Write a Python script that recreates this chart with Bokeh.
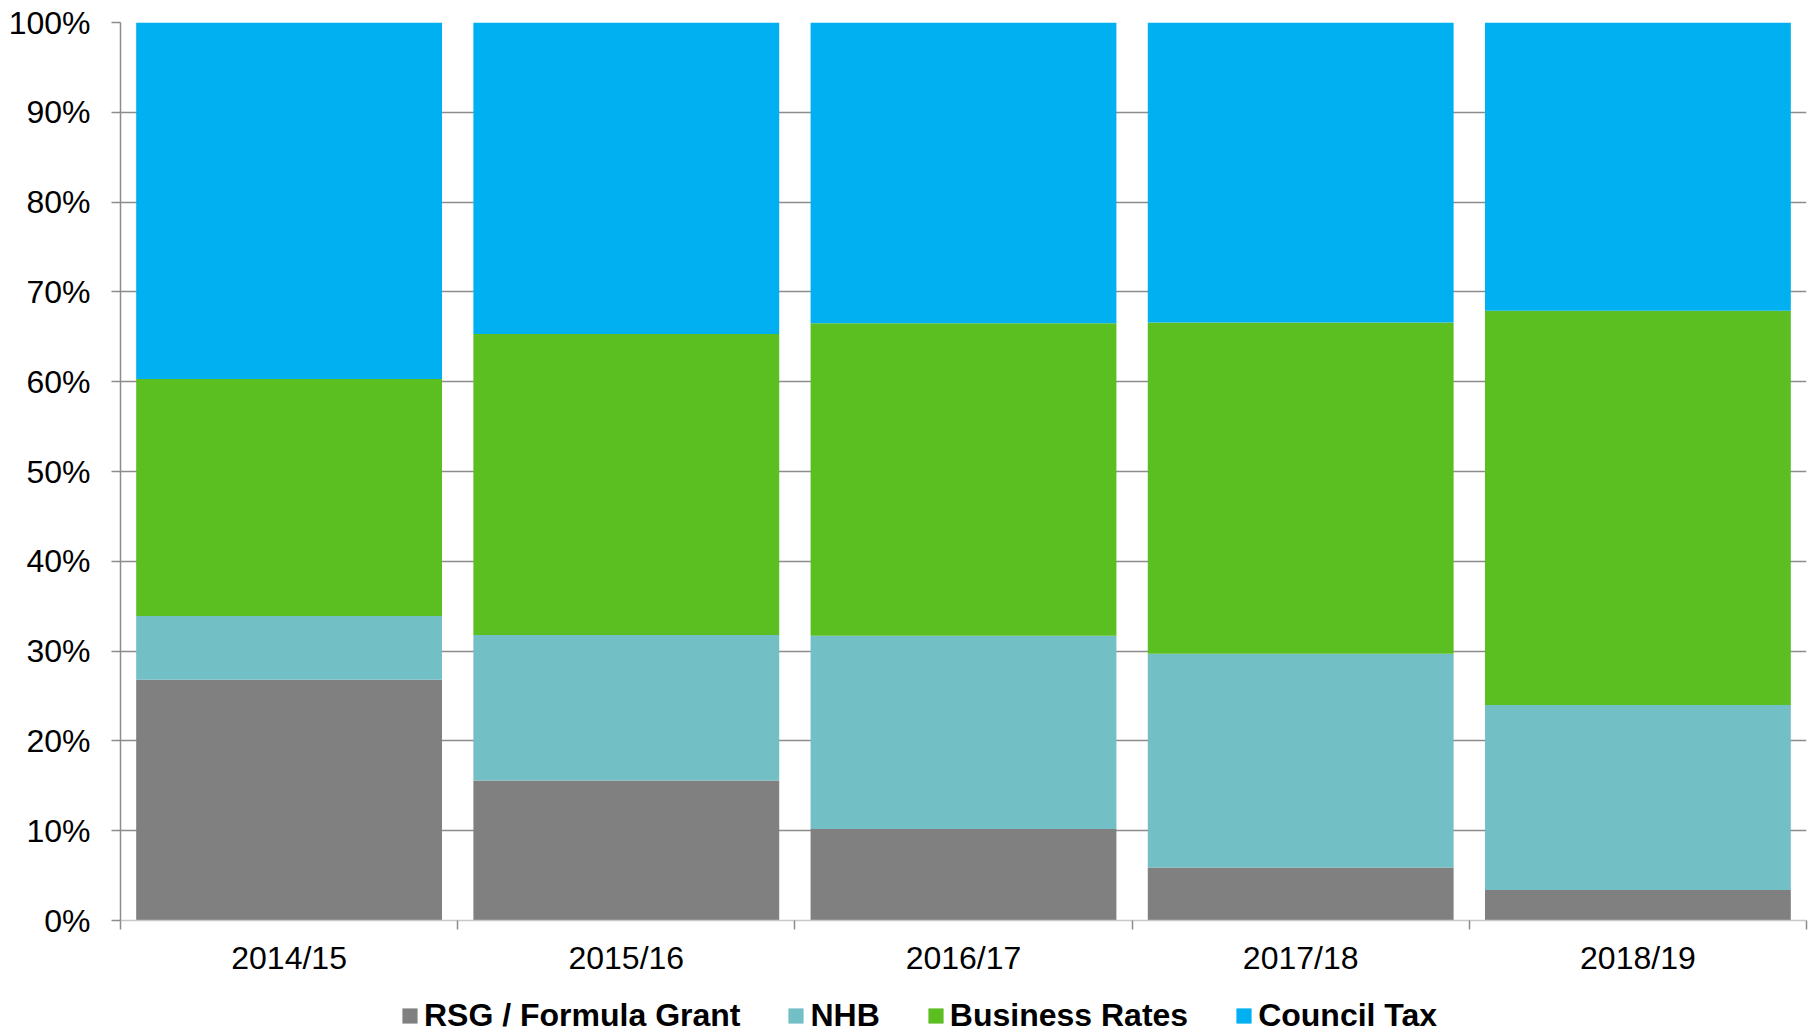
from bokeh.plotting import figure
from bokeh.layouts import column
from bokeh.models import (Range1d, FixedTicker, NumeralTickFormatter, ColumnDataSource,
                          Legend, LegendItem)
from bokeh.embed import file_html
from bokeh.resources import INLINE

categories = ["2014/15", "2015/16", "2016/17", "2017/18", "2018/19"]
series_names = ["RSG / Formula Grant", "NHB", "Business Rates", "Council Tax"]
rsg = [0.268, 0.156, 0.102, 0.059, 0.034]
nhb = [0.071, 0.162, 0.215, 0.238, 0.206]
business_rates = [0.264, 0.335, 0.348, 0.369, 0.439]
council_tax = [0.397, 0.347, 0.335, 0.334, 0.321]
y_ticks = [0.0, 0.1, 0.2, 0.3, 0.4, 0.5, 0.6, 0.7, 0.8, 0.9, 1.0]
colors = ["#808080", "#73bfc6", "#5bbf21", "#00b0f0"]

FONT = "Liberation Sans"
n = len(categories)
xs = [i + 0.5 for i in range(n)]
source = ColumnDataSource(dict(x=xs, rsg=rsg, nhb=nhb, br=business_rates, ct=council_tax))
stack_cols = ["rsg", "nhb", "br", "ct"]

W = 1816
H_MAIN = 980
H_LEG = 54

p = figure(width=W, height=H_MAIN, output_backend="svg", toolbar_location=None,
           x_range=Range1d(0, n), y_range=Range1d(0, 1),
           min_border_left=120, min_border_right=10, min_border_top=22,
           min_border_bottom=H_MAIN - 920)
p.outline_line_color = None
p.background_fill_color = "white"
p.border_fill_color = "white"

renderers = p.vbar_stack(stack_cols, x="x", width=0.907, source=source,
                         color=colors, line_color=None)

# y axis
p.yaxis.ticker = FixedTicker(ticks=y_ticks)
p.yaxis.formatter = NumeralTickFormatter(format="0%")
p.yaxis.major_label_text_font = FONT
p.yaxis.major_label_text_font_size = "32px"
p.yaxis.major_label_text_color = "black"
p.yaxis.major_tick_out = 9
p.yaxis.major_tick_in = 0
p.yaxis.minor_tick_line_color = None
p.yaxis.axis_line_color = "#8c8c8c"
p.yaxis.axis_line_width = 1.5
p.yaxis.major_tick_line_color = "#8c8c8c"
p.yaxis.major_tick_line_width = 1.5
p.yaxis.major_label_standoff = 21

# x axis
p.xaxis.ticker = FixedTicker(ticks=xs, minor_ticks=list(range(n + 1)))
p.xaxis.major_label_overrides = {x: c for x, c in zip(xs, categories)}
p.xaxis.major_label_text_font = FONT
p.xaxis.major_label_text_font_size = "32px"
p.xaxis.major_label_text_color = "black"
p.xaxis.major_tick_line_color = None
p.xaxis.major_tick_out = 0
p.xaxis.major_tick_in = 0
p.xaxis.minor_tick_out = 9
p.xaxis.minor_tick_in = 0
p.xaxis.minor_tick_line_color = "#8c8c8c"
p.xaxis.minor_tick_line_width = 1.5
p.xaxis.axis_line_color = "#c8c8c8"
p.xaxis.axis_line_width = 1.5
p.xaxis.major_label_standoff = 10

p.xgrid.grid_line_color = None
p.ygrid.ticker = FixedTicker(ticks=y_ticks)
p.ygrid.grid_line_color = "#8c8c8c"
p.ygrid.grid_line_width = 1.5

# legend strip below the chart (its bars lie outside its visible range; only the legend shows)
lf = figure(width=W, height=H_LEG, output_backend="svg", toolbar_location=None,
            x_range=Range1d(0, n), y_range=Range1d(2, 3),
            min_border=0, x_axis_type=None, y_axis_type=None)
lf.outline_line_color = None
lf.grid.grid_line_color = None
leg_renderers = lf.vbar_stack(stack_cols, x="x", width=0.907, source=source,
                              color=colors, line_color=None)

legend = Legend(items=[LegendItem(label=name, renderers=[r]) for name, r in zip(series_names, leg_renderers)],
                orientation="horizontal", location=(280, 0))
legend.label_text_font = FONT
legend.label_text_font_size = "32px"
legend.label_text_font_style = "bold"
legend.label_text_color = "black"
legend.glyph_width = 19
legend.glyph_height = 19
legend.label_standoff = 5
legend.spacing = 46
legend.padding = 0
legend.margin = 0
legend.border_line_color = None
legend.background_fill_alpha = 0
lf.add_layout(legend, "center")

layout = column(p, lf, spacing=0)
open("out.html", "w").write(file_html(layout, INLINE))
